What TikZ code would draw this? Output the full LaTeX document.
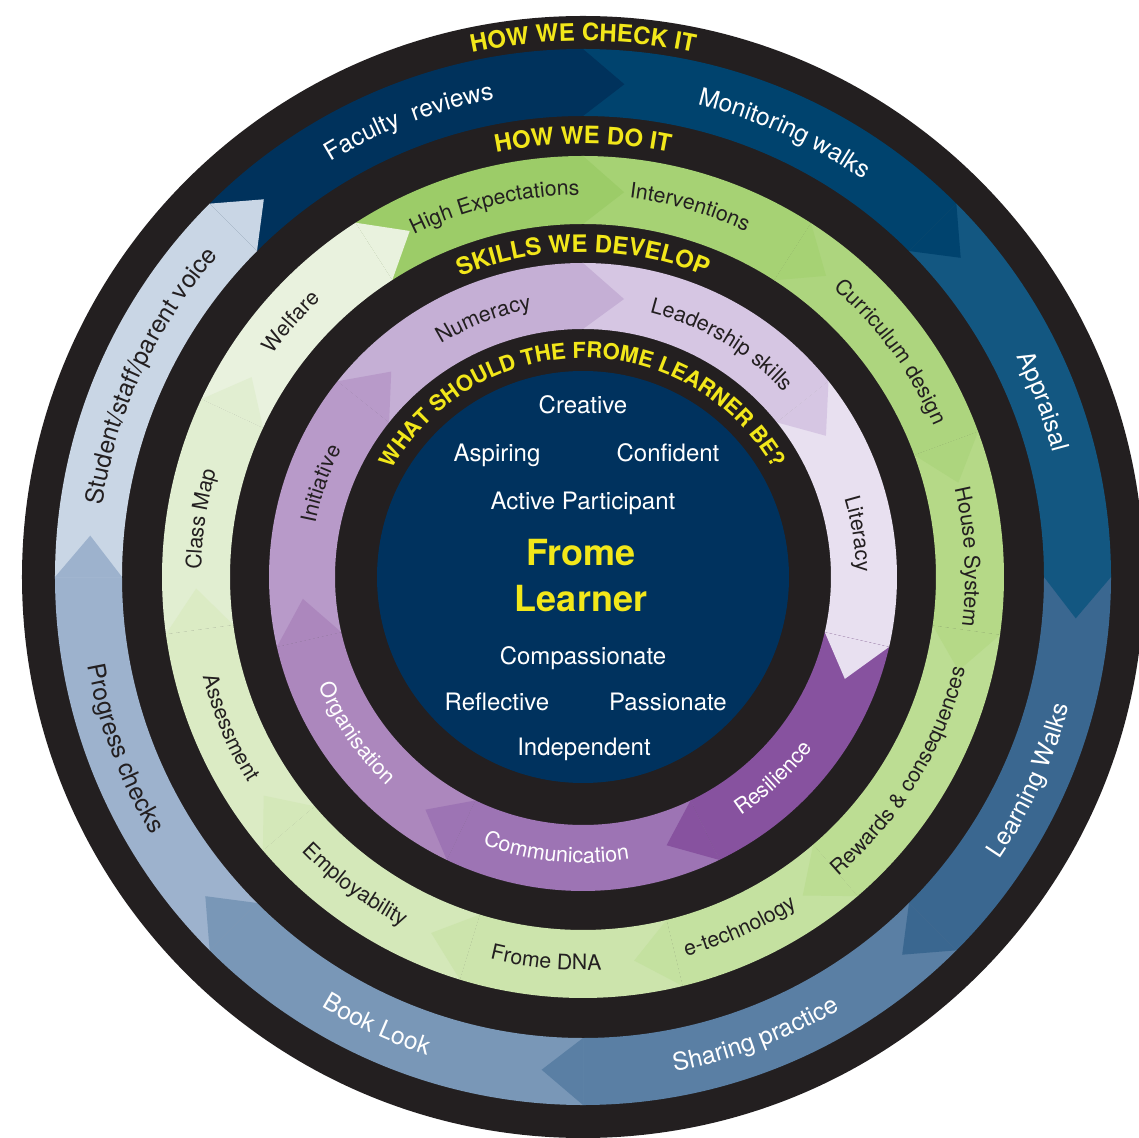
\documentclass[tikz,border=0pt]{standalone}
\usepackage{fontspec}
\setmainfont{TeX Gyre Heros}
\usetikzlibrary{decorations.text}

\definecolor{ringblack}{HTML}{231F20}
\definecolor{core}{HTML}{00325E}
\definecolor{ytext}{HTML}{F2E71A}
% outer blue ring
\definecolor{bA}{HTML}{00325C}
\definecolor{bB}{HTML}{00436E}
\definecolor{bC}{HTML}{135781}
\definecolor{bD}{HTML}{3A6790}
\definecolor{bE}{HTML}{5A7FA4}
\definecolor{bF}{HTML}{7997B7}
\definecolor{bG}{HTML}{9DB2CD}
\definecolor{bH}{HTML}{C9D6E5}
% green ring
\definecolor{gA}{HTML}{9CCC68}
\definecolor{gB}{HTML}{A6D274}
\definecolor{gC}{HTML}{ADD57E}
\definecolor{gD}{HTML}{B5D987}
\definecolor{gE}{HTML}{BCDD93}
\definecolor{gF}{HTML}{C4E1A0}
\definecolor{gG}{HTML}{CCE4AC}
\definecolor{gH}{HTML}{D4E8B9}
\definecolor{gI}{HTML}{DBEBC4}
\definecolor{gJ}{HTML}{E1EED1}
\definecolor{gK}{HTML}{E9F2DE}
% purple ring
\definecolor{pA}{HTML}{C5AFD5}
\definecolor{pB}{HTML}{D6C6E3}
\definecolor{pC}{HTML}{E8E0F0}
\definecolor{pD}{HTML}{87529F}
\definecolor{pE}{HTML}{9D74B4}
\definecolor{pF}{HTML}{AC87BD}
\definecolor{pG}{HTML}{B89AC9}

% annular sector: rin rout start end colour
\newcommand\ringseg[5]{\fill[#5] (#3:#1) arc[start angle=#3, end angle=#4, radius=#1] -- (#4:#2) arc[start angle=#4, end angle=#3, radius=#2] -- cycle;}
% chevron tip: rin rout endangle tipangle colour
\newcommand\ringtip[5]{\fill[#5] (#3:#1) -- ({#3-#4}:{(#1+#2)/2}) -- (#3:#2) -- cycle;}
% curved text, clockwise (tops outward) and counter-clockwise (tops inward)
\newcommand\cwtext[4]{\path[decorate,decoration={text along path,text align=center,text={#4}}] ({#2+#3}:#1) arc[start angle={#2+#3}, end angle={#2-#3}, radius=#1];}
\newcommand\ccwtext[4]{\path[decorate,decoration={text along path,text align=center,text={#4}}] ({#2-#3}:#1) arc[start angle={#2-#3}, end angle={#2+#3}, radius=#1];}

\newcommand\fbw{\color{white}\fontsize{24.6}{24.6}\selectfont}
\newcommand\fbk{\color{ringblack}\fontsize{24.6}{24.6}\selectfont}
\newcommand\fg{\color{ringblack}\fontsize{21.3}{21.3}\selectfont}
\newcommand\fpk{\color{ringblack}\fontsize{21.5}{21.5}\selectfont}
\newcommand\fpw{\color{white}\fontsize{21.5}{21.5}\selectfont}
\newcommand\ftt{\color{ytext}\bfseries\fontsize{24}{24}\selectfont}
\newcommand\ftw{\color{ytext}\bfseries\fontsize{22}{22}\selectfont}

\begin{document}
\begin{tikzpicture}[x=1pt,y=1pt,
  corelabel/.style={text=white, font=\fontsize{24}{24}\selectfont, anchor=base, inner sep=0pt},
  corehead/.style={text=ytext, font=\bfseries\fontsize{36}{36}\selectfont, anchor=base, inner sep=0pt}]
\fill[white] (-583,-560) rectangle (556,577);
\useasboundingbox (-583,-560) rectangle (556,577);

\fill[ringblack] (0,0) circle[radius=561];

% ---------- outer blue ring: HOW WE CHECK IT ----------
\ringseg{461}{528}{135}{90}{bA}
\ringseg{461}{528}{90}{45}{bB}
\ringseg{461}{528}{45}{0}{bC}
\ringseg{461}{528}{0}{-45}{bD}
\ringseg{461}{528}{-45}{-90}{bE}
\ringseg{461}{528}{-90}{-135}{bF}
\ringseg{461}{528}{-135}{-180}{bG}
\ringseg{461}{528}{180}{135}{bH}
\ringtip{461}{528}{90}{4.8}{bA}
\ringtip{461}{528}{45}{4.8}{bB}
\ringtip{461}{528}{0}{4.8}{bC}
\ringtip{461}{528}{-45}{4.8}{bD}
\ringtip{461}{528}{-90}{4.8}{bE}
\ringtip{461}{528}{-135}{4.8}{bF}
\ringtip{461}{528}{-180}{4.8}{bG}
\ringtip{461}{528}{135}{4.8}{bH}

% ---------- green ring: HOW WE DO IT ----------
\ringseg{353}{421}{122.7}{90}{gA}
\ringseg{353}{421}{90}{57.2}{gB}
\ringseg{353}{421}{57.2}{20.2}{gC}
\ringseg{353}{421}{20.2}{-7.9}{gD}
\ringseg{353}{421}{-7.9}{-49.3}{gE}
\ringseg{353}{421}{-49.3}{-76.3}{gF}
\ringseg{353}{421}{-76.3}{-107}{gG}
\ringseg{353}{421}{-107}{-139.5}{gH}
\ringseg{353}{421}{-139.5}{-172.2}{gI}
\ringseg{353}{421}{187.8}{155}{gJ}
\ringseg{353}{421}{155}{122.7}{gK}
\ringtip{353}{421}{90}{6.1}{gA}
\ringtip{353}{421}{57.2}{6.1}{gB}
\ringtip{353}{421}{20.2}{6.1}{gC}
\ringtip{353}{421}{-7.9}{6.1}{gD}
\ringtip{353}{421}{-49.3}{6.1}{gE}
\ringtip{353}{421}{-76.3}{6.1}{gF}
\ringtip{353}{421}{-107}{6.1}{gG}
\ringtip{353}{421}{-139.5}{6.1}{gH}
\ringtip{353}{421}{-172.2}{6.1}{gI}
\ringtip{353}{421}{155}{6.1}{gJ}
\ringtip{353}{421}{122.7}{6.1}{gK}

% ---------- purple ring: SKILLS WE DEVELOP ----------
\ringseg{248}{314}{141.43}{90}{pA}
\ringseg{248}{314}{90}{38.57}{pB}
\ringseg{248}{314}{38.57}{-12.86}{pC}
\ringseg{248}{314}{-12.86}{-64.29}{pD}
\ringseg{248}{314}{-64.29}{-115.71}{pE}
\ringseg{248}{314}{-115.71}{-167.14}{pF}
\ringseg{248}{314}{192.86}{141.43}{pG}
\ringtip{248}{314}{90}{8.4}{pA}
\ringtip{248}{314}{38.57}{8.4}{pB}
\ringtip{248}{314}{-12.86}{8.4}{pC}
\ringtip{248}{314}{-64.29}{8.4}{pD}
\ringtip{248}{314}{-115.71}{8.4}{pE}
\ringtip{248}{314}{-167.14}{8.4}{pF}
\ringtip{248}{314}{141.43}{8.4}{pG}

% ---------- core ----------
\fill[core] (0,0) circle[radius=206];

% ---------- ring titles ----------
\cwtext{536}{90}{40}{|\ftt|HOW WE CHECK IT}
\cwtext{433}{90}{45}{|\ftt|HOW WE DO IT}
\cwtext{325}{90}{50}{|\ftt|SKILLS WE DEVELOP}
\cwtext{219}{90}{80}{|\ftw|WHAT SHOULD THE FROME LEARNER BE?}

% ---------- blue ring labels ----------
\cwtext{486}{110.9}{35}{|\fbw|Faculty {\ }reviews}
\cwtext{486}{65.6}{35}{|\fbw|Monitoring walks}
\cwtext{486}{20.9}{35}{|\fbw|Appraisal}
\ccwtext{503}{-24.5}{35}{|\fbw|Learning Walks}
\ccwtext{503}{-69.4}{35}{|\fbw|Sharing practice}
\ccwtext{503}{-114.7}{35}{|\fbw|Book Look}
\ccwtext{503}{-159.5}{35}{|\fbk|Progress checks}
\cwtext{486}{155.1}{35}{|\fbk|Student/staff/parent voice}

% ---------- green ring labels ----------
\cwtext{382}{103.4}{30}{|\fg|High Expectations}
\cwtext{382}{73.9}{30}{|\fg|Interventions}
\cwtext{382}{36.2}{30}{|\fg|Curriculum design}
\cwtext{382}{3}{30}{|\fg|House System}
\ccwtext{393}{-31.5}{30}{|\fg|Rewards {\&} consequences}
\ccwtext{393}{-65.9}{30}{|\fg|e-technology}
\ccwtext{393}{-95.5}{30}{|\fg|Frome DNA}
\ccwtext{393}{-126.5}{30}{|\fg|Employability}
\ccwtext{393}{-156.9}{30}{|\fg|Assessment}
\cwtext{382}{171.4}{30}{|\fg|Class Map}
\cwtext{382}{138.9}{30}{|\fg|Welfare}

% ---------- purple ring labels ----------
\cwtext{273}{111.1}{35}{|\fpk|Numeracy}
\cwtext{273}{59.2}{35}{|\fpk|Leadership skills}
\cwtext{273}{8.9}{35}{|\fpk|Literacy}
\ccwtext{286}{-46.6}{35}{|\fpw|Resilience}
\ccwtext{286}{-95.6}{35}{|\fpw|Communication}
\ccwtext{286}{-145.4}{35}{|\fpw|Organisation}
\cwtext{273}{160.4}{35}{|\fpk|Initiative}

% ---------- core labels ----------
\node[corelabel] (creative) at (0,163) {Creative};
\node[corelabel] (aspiring) at (-86,115) {Aspiring};
\node[corelabel] (confident) at (85,115) {Confident};
\node[corelabel] (active) at (0,67) {Active Participant};
\node[corehead] (frome) at (-2,11) {Frome};
\node[corehead] (learner) at (-2,-34) {Learner};
\node[corelabel] (compassionate) at (0,-87) {Compassionate};
\node[corelabel] (reflective) at (-86,-133) {Reflective};
\node[corelabel] (passionate) at (85,-133) {Passionate};
\node[corelabel] (independent) at (1,-178) {Independent};
\end{tikzpicture}
\end{document}
